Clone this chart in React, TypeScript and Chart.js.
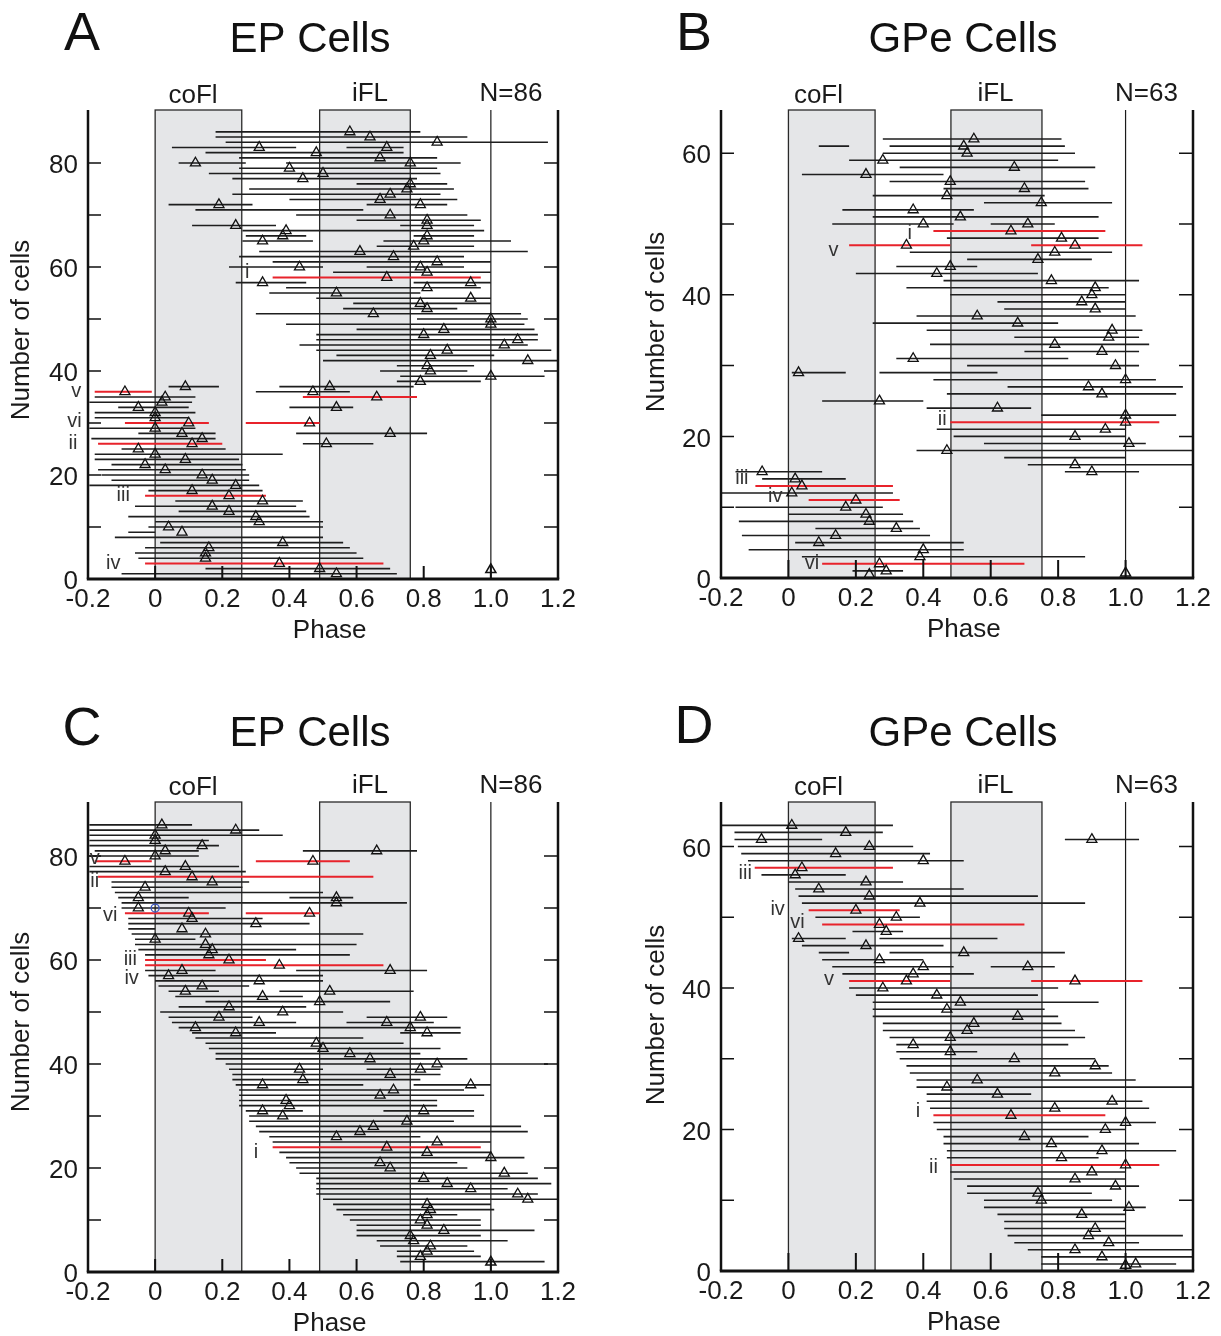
import React, { useEffect, useRef } from 'react';
import { Chart, registerables } from 'chart.js';

Chart.register(...registerables);

type Cell = [number, number, number, number | null]; // row, start phase, end phase, mean phase
type Lbl = [string, number, number]; // text, phase, row

const FONT = '"Liberation Sans", Arial, Helvetica, sans-serif';

const X_TICKS = [-0.2, 0, 0.2, 0.4, 0.6, 0.8, 1.0, 1.2];
const X_TICK_LABELS = ['-0.2', '0', '0.2', '0.4', '0.6', '0.8', '1.0', '1.2'];
const Y_MAJOR_EP = [0, 20, 40, 60, 80];
const Y_MINOR_EP = [10, 30, 50, 70];
const Y_MAJOR_GPE = [0, 20, 40, 60];
const Y_MINOR_GPE = [10, 30, 50];
const COFL_EP: [number, number] = [0, 0.258];
const IFL_EP: [number, number] = [0.49, 0.76];
const COFL_GPE: [number, number] = [0, 0.257];
const IFL_GPE: [number, number] = [0.482, 0.752];

// ---------- Panel A : EP cells ----------
const epCellsA: Cell[] = [
  [86, 0.18, 0.79, 0.58], [85, 0.18, 0.93, 0.64], [84, 0.21, 1.17, 0.84],
  [83, 0.05, 0.42, 0.31], [83, 0.57, 0.74, 0.69], [82, 0.15, 0.74, 0.48],
  [81, 0.25, 0.84, 0.67], [80, 0.07, 0.27, 0.12], [80, 0.39, 0.91, 0.76],
  [79, 0.25, 0.84, 0.40], [78, 0.16, 0.85, 0.50], [77, 0.23, 0.78, 0.44],
  [76, 0.60, 0.87, 0.76], [75, 0.28, 0.89, 0.75], [74, 0.23, 0.85, 0.70],
  [73, 0.40, 0.90, 0.67], [72, 0.04, 0.29, 0.19], [72, 0.63, 0.87, 0.79],
  [71, 0.12, 0.62, null], [70, 0.42, 0.93, 0.70], [69, 0.60, 0.97, 0.81],
  [68, 0.11, 0.36, 0.24], [68, 0.73, 0.95, 0.81], [67, 0.26, 0.98, 0.39],
  [66, 0.27, 0.45, 0.38], [66, 0.77, 0.95, 0.81], [65, 0.26, 0.47, 0.32],
  [65, 0.68, 1.06, 0.80], [64, 0.66, 0.95, 0.77], [63, 0.31, 1.11, 0.61],
  [62, 0.25, 0.92, 0.71], [61, 0.35, 1.00, 0.84], [60, 0.22, 0.50, 0.43],
  [60, 0.63, 0.92, 0.79], [59, 0.53, 1.00, 0.81], [57, 0.24, 0.45, 0.32],
  [57, 0.77, 1.00, 0.94], [56, 0.39, 0.97, 0.81], [55, 0.34, 0.79, 0.54],
  [54, 0.48, 1.00, 0.94], [53, 0.59, 1.00, 0.79], [52, 0.56, 0.90, 0.81],
  [51, 0.30, 1.09, 0.65], [50, 0.78, 1.11, 1.00], [49, 0.39, 1.10, 1.00],
  [48, 0.60, 1.13, 0.86], [47, 0.48, 1.14, 0.80], [46, 0.48, 1.14, 1.08],
  [45, 0.43, 1.11, 1.04], [44, 0.48, 1.18, 0.87], [43, 0.54, 1.01, 0.82],
  [42, 0.50, 1.20, 1.11], [41, 0.72, 0.95, 0.81], [40, 0.67, 0.93, 0.82],
  [39, 0.73, 1.16, 1.00], [38, 0.72, 0.97, 0.79], [37, 0.04, 0.19, 0.09],
  [37, 0.37, 0.77, 0.52], [36, 0.30, 0.58, 0.47], [35, -0.18, 0.12, 0.03],
  [34, -0.196, 0.11, 0.02], [33, -0.11, 0.10, -0.05], [33, 0.40, 0.59, 0.54],
  [32, -0.18, 0.12, 0.00], [31, -0.18, 0.10, 0.00], [29, -0.196, 0.12, 0.00],
  [28, -0.05, 0.18, 0.08], [28, 0.42, 0.81, 0.70], [27, -0.19, 0.18, 0.14],
  [26, 0.44, 0.65, 0.51], [25, -0.10, 0.21, -0.05], [24, -0.18, 0.38, 0.00],
  [23, -0.18, 0.25, 0.09], [22, -0.13, 0.26, -0.03], [21, -0.17, 0.27, 0.03],
  [20, -0.16, 0.28, 0.14], [19, -0.13, 0.28, 0.17], [18, -0.196, 0.31, 0.24],
  [17, -0.02, 0.32, 0.11], [15, 0.06, 0.44, 0.32], [14, -0.06, 0.42, 0.17],
  [13, 0.07, 0.45, 0.22], [12, -0.08, 0.46, 0.30], [11, 0.00, 0.50, 0.31],
  [10, -0.02, 0.50, 0.04], [9, -0.08, 0.00, 0.08], [8, -0.12, 0.50, null],
  [7, 0.015, 0.56, 0.38], [6, -0.03, 0.58, 0.16], [5, -0.06, 0.60, 0.15],
  [4, -0.05, 0.62, 0.15], [2, 0.15, 0.70, 0.49], [1, -0.10, 0.72, 0.54],
];
const epRedA: Cell[] = [
  [58, 0.35, 0.97, 0.69], [36, -0.18, -0.01, -0.09], [35, 0.44, 0.78, 0.66],
  [30, -0.09, 0.16, 0.10], [30, 0.27, 0.49, 0.46], [26, -0.17, 0.20, 0.11],
  [16, -0.03, 0.33, 0.22], [3, -0.03, 0.68, 0.37],
];
const epLabelsA: Lbl[] = [
  ['i', 0.274, 59], ['v', -0.235, 36], ['vi', -0.24, 30.3], ['ii', -0.245, 26],
  ['iii', -0.095, 16], ['iv', -0.125, 3],
];

// ---------- Panel B : GPe cells ----------
const gpeCellsB: Cell[] = [
  [62, 0.28, 0.81, 0.55], [61, 0.30, 0.82, 0.52], [61, 0.09, 0.18, null],
  [60, 0.28, 0.85, 0.53], [59, 0.18, 0.80, 0.28], [58, 0.33, 0.91, 0.67],
  [57, 0.04, 0.46, 0.23], [56, 0.30, 0.88, 0.48], [55, 0.46, 0.89, 0.70],
  [54, 0.25, 0.76, 0.47], [53, 0.58, 0.96, 0.75], [52, 0.16, 0.55, 0.37],
  [51, 0.25, 0.92, 0.51], [50, 0.13, 0.49, 0.40], [50, 0.60, 0.79, 0.71],
  [48, 0.47, 0.92, 0.81], [46, 0.36, 0.96, 0.79], [45, 0.53, 0.90, 0.74],
  [44, 0.32, 0.56, 0.48], [43, 0.20, 0.74, 0.44], [42, 0.46, 1.04, 0.78],
  [41, 0.35, 0.95, 0.91], [40, 0.48, 1.00, 0.90], [39, 0.62, 1.00, 0.87],
  [38, 0.64, 1.00, 0.91], [37, 0.38, 1.03, 0.56], [36, 0.25, 0.80, 0.68],
  [35, 0.41, 1.05, 0.96], [34, 0.67, 1.04, 0.95], [33, 0.42, 1.07, 0.79],
  [32, 0.70, 1.04, 0.93], [31, 0.32, 0.83, 0.37], [30, 0.53, 1.04, 0.97],
  [29, 0.01, 0.17, 0.03], [29, 0.27, 0.62, null], [28, 0.43, 1.09, 1.00],
  [27, 0.65, 1.17, 0.89], [26, 0.47, 1.15, 0.93], [25, 0.10, 0.40, 0.27],
  [24, 0.41, 0.72, 0.62], [23, 0.75, 1.15, 1.00], [21, 0.44, 1.00, 0.94],
  [20, 0.49, 1.00, 0.85], [19, 0.58, 1.06, 1.01], [18, 0.38, 1.20, 0.47],
  [17, 0.64, 1.00, null], [16, 0.71, 1.20, 0.85], [15, 0.82, 1.04, 0.90],
  [15, -0.157, 0.10, -0.078], [14, -0.078, 0.17, 0.02], [12, -0.20, 0.31, 0.01],
  [10, -0.157, 0.28, 0.17], [9, 0.00, 0.34, 0.23], [8, -0.147, 0.37, 0.24],
  [7, 0.08, 0.39, 0.32], [6, -0.138, 0.42, 0.14], [5, 0.02, 0.52, 0.09],
  [4, -0.118, 0.52, 0.40], [3, 0.04, 0.88, 0.39], [1, 0.19, 0.34, 0.29],
  [0.5, 0.24, 0.24, 0.24],
];
const gpeRedB: Cell[] = [
  [49, 0.43, 0.94, 0.66], [47, 0.18, 0.48, 0.35], [47, 0.72, 1.05, 0.85],
  [22, 0.48, 1.10, 1.00], [13, -0.098, 0.31, 0.04], [11, 0.06, 0.33, 0.20],
  [2, 0.10, 0.70, 0.27],
];
const gpeLabelsB: Lbl[] = [
  ['i', 0.36, 48.7], ['v', 0.134, 46.3], ['ii', 0.456, 22.4], ['iii', -0.138, 14],
  ['iv', -0.039, 11.5], ['vi', 0.07, 2.1],
];

// ---------- Panel C : EP cells (re-sorted) ----------
const epCellsC: Cell[] = [
  [86, -0.196, 0.11, 0.02], [85, -0.196, 0.31, 0.24], [84, -0.196, 0.38, 0.00],
  [83, -0.196, 0.16, 0.00], [82, -0.196, 0.19, 0.14], [81, -0.18, 0.13, 0.03],
  [81, 0.44, 0.78, 0.66], [80, -0.196, 0.13, 0.00], [78, -0.196, 0.25, 0.09],
  [77, -0.196, 0.27, 0.03], [75, -0.13, 0.28, 0.17], [74, -0.13, 0.26, -0.03],
  [73, -0.12, 0.50, null], [72, -0.11, 0.10, -0.05], [72, 0.40, 0.59, 0.54],
  [71, -0.10, 0.75, 0.54], [70, -0.10, 0.21, -0.05], [68, -0.08, 0.32, 0.11],
  [67, -0.08, 0.46, 0.30], [66, -0.08, 0.00, 0.08], [65, -0.07, 0.62, 0.15],
  [64, -0.06, 0.12, 0.00], [63, -0.06, 0.60, 0.15], [62, -0.05, 0.42, 0.17],
  [61, -0.03, 0.58, 0.16], [58, -0.03, 0.18, 0.08], [58, 0.42, 0.81, 0.70],
  [57, -0.02, 0.50, 0.04], [56, 0.00, 0.50, 0.31], [55, 0.01, 0.28, 0.14],
  [54, 0.04, 0.19, 0.09], [54, 0.37, 0.77, 0.52], [53, 0.06, 0.44, 0.32],
  [52, 0.15, 0.70, 0.49], [51, 0.07, 0.45, 0.22], [50, 0.015, 0.56, 0.38],
  [49, 0.04, 0.29, 0.19], [49, 0.63, 0.87, 0.79], [48, 0.05, 0.42, 0.31],
  [48, 0.57, 0.83, 0.69], [47, 0.07, 0.60, 0.12], [47, 0.39, 0.91, 0.76],
  [46, 0.11, 0.36, 0.24], [46, 0.73, 0.91, 0.81], [45, 0.12, 0.62, null],
  [44, 0.15, 0.74, 0.48], [43, 0.16, 0.85, 0.50], [42, 0.18, 0.79, 0.58],
  [41, 0.18, 0.93, 0.64], [40, 0.21, 1.17, 0.84], [39, 0.22, 0.50, 0.43],
  [39, 0.63, 0.85, 0.79], [38, 0.23, 0.85, 0.70], [37, 0.23, 0.79, 0.44],
  [36, 0.24, 0.62, 0.32], [36, 0.77, 1.00, 0.94], [35, 0.25, 0.92, 0.71],
  [34, 0.25, 0.98, 0.67], [33, 0.25, 0.84, 0.39], [32, 0.25, 0.84, 0.40],
  [31, 0.27, 0.44, 0.32], [31, 0.68, 0.95, 0.80], [30, 0.28, 0.95, 0.38],
  [29, 0.28, 0.89, 0.75], [28, 0.30, 1.09, 0.65], [27, 0.31, 1.11, 0.61],
  [26, 0.34, 0.79, 0.54], [25, 0.35, 1.00, 0.84], [23, 0.37, 1.00, 0.81],
  [22, 0.39, 1.10, 1.00], [21, 0.40, 0.90, 0.67], [20, 0.42, 0.93, 0.70],
  [19, 0.43, 1.11, 1.04], [18, 0.48, 1.14, 0.80], [17, 0.48, 1.18, 0.87],
  [16, 0.48, 1.05, 0.94], [15, 0.48, 1.14, 1.08], [14, 0.50, 1.20, 1.11],
  [13, 0.53, 1.00, 0.81], [12, 0.54, 1.01, 0.82], [11, 0.56, 0.90, 0.81],
  [10, 0.58, 0.97, 0.79], [9, 0.60, 0.97, 0.81], [8, 0.60, 1.13, 0.86],
  [7, 0.60, 0.97, 0.76], [6, 0.66, 1.05, 0.77], [5, 0.67, 0.93, 0.82],
  [4, 0.72, 0.95, 0.81], [3, 0.72, 0.97, 0.79], [2, 0.73, 1.16, null],
];
const epRedC: Cell[] = [
  [79, -0.18, -0.01, -0.09], [79, 0.30, 0.58, 0.47], [76, -0.17, 0.65, 0.11],
  [69, -0.09, 0.16, 0.10], [69, 0.27, 0.49, 0.46], [60, -0.03, 0.33, 0.22],
  [59, -0.03, 0.68, 0.37], [24, 0.35, 0.97, 0.69],
];
const epLabelsC: Lbl[] = [
  ['v', -0.18, 79.5], ['ii', -0.18, 75.1], ['vi', -0.134, 68.6], ['iii', -0.074, 60.2],
  ['iv', -0.07, 56.5], ['i', 0.30, 23],
];

// ---------- Panel D : GPe cells (re-sorted) ----------
const gpeCellsD: Cell[] = [
  [63, -0.20, 0.31, 0.01], [62, -0.16, 0.28, 0.17], [61, -0.16, 0.10, -0.08],
  [61, 0.82, 1.04, 0.90], [60, -0.15, 0.37, 0.24], [59, -0.14, 0.42, 0.14],
  [58, -0.12, 0.52, 0.40], [56, -0.08, 0.17, 0.02], [55, 0.00, 0.34, 0.23],
  [54, 0.02, 0.52, 0.09], [53, 0.03, 0.74, 0.24], [52, 0.04, 0.88, 0.39],
  [50, 0.08, 0.39, 0.32], [48, 0.19, 0.34, 0.29], [47, 0.01, 0.17, 0.03],
  [47, 0.27, 0.62, null], [46, 0.04, 0.46, 0.23], [45, 0.09, 0.18, null],
  [45, 0.30, 0.82, 0.52], [44, 0.10, 0.40, 0.27], [43, 0.13, 0.49, 0.40],
  [43, 0.60, 0.79, 0.71], [42, 0.16, 0.55, 0.37], [40, 0.18, 0.80, 0.28],
  [39, 0.20, 0.74, 0.44], [38, 0.25, 0.92, 0.51], [37, 0.25, 0.76, 0.47],
  [36, 0.25, 0.80, 0.68], [35, 0.28, 0.81, 0.55], [34, 0.28, 0.85, 0.53],
  [33, 0.30, 0.88, 0.48], [32, 0.32, 0.83, 0.37], [31, 0.32, 0.56, 0.48],
  [30, 0.33, 0.91, 0.67], [29, 0.35, 0.95, 0.91], [28, 0.36, 0.96, 0.79],
  [27, 0.38, 1.03, 0.56], [26, 0.38, 1.20, 0.47], [25, 0.41, 0.72, 0.62],
  [24, 0.41, 1.05, 0.96], [23, 0.42, 1.07, 0.79], [21, 0.43, 1.09, 1.00],
  [20, 0.44, 1.00, 0.94], [19, 0.46, 0.89, 0.70], [18, 0.46, 1.04, 0.78],
  [17, 0.47, 1.15, 0.93], [16, 0.47, 0.92, 0.81], [14, 0.48, 1.00, 0.90],
  [13, 0.49, 1.00, 0.85], [12, 0.53, 1.04, 0.97], [11, 0.53, 0.90, 0.74],
  [10, 0.58, 0.96, 0.75], [9, 0.58, 1.06, 1.01], [8, 0.62, 1.00, 0.87],
  [7, 0.64, 1.00, null], [6, 0.64, 1.00, 0.91], [5, 0.65, 1.17, 0.89],
  [4, 0.67, 1.04, 0.95], [3, 0.71, 1.20, 0.85], [2, 0.75, 1.20, 0.93],
  [1, 0.75, 1.15, 1.03],
];
const gpeRedD: Cell[] = [
  [57, -0.10, 0.31, 0.04], [51, 0.06, 0.33, 0.20], [49, 0.10, 0.70, 0.27],
  [41, 0.18, 0.48, 0.35], [41, 0.72, 1.05, 0.85], [22, 0.43, 0.94, 0.66],
  [15, 0.48, 1.10, 1.00],
];
const gpeLabelsD: Lbl[] = [
  ['iii', -0.128, 56.2], ['iv', -0.032, 51.1], ['vi', 0.027, 49.2], ['v', 0.12, 41.2],
  ['i', 0.384, 22.6], ['ii', 0.43, 14.7],
];

interface Panel {
  id: string;
  letter: string;
  title: string;
  nText: string;
  cells: Cell[];
  reds: Cell[];
  labels: Lbl[];
  refPoint: [number, number];
  blue?: [number, number];
  ymax: number;
  yMajor: number[];
  yMinor: number[];
  cofl: [number, number];
  ifl: [number, number];
  box: [number, number, number, number];
  pad: { left: number; right: number; top: number; bottom: number };
  xTickLen: number;
  letterPos: [number, number];
  titlePos: [number, number];
  yTitlePos: [number, number];
  boxLabelX: [number, number, number];
}

const PANELS: Panel[] = [
  {
    id: 'A', letter: 'A', title: 'EP Cells', nText: 'N=86', cells: epCellsA, reds: epRedA,
    labels: epLabelsA, refPoint: [1.0, 1.8], ymax: 90.2, yMajor: Y_MAJOR_EP, yMinor: Y_MINOR_EP,
    cofl: COFL_EP, ifl: IFL_EP, box: [0, 0, 610, 668],
    pad: { left: 88, right: 52, top: 110, bottom: 89 }, xTickLen: 13,
    letterPos: [82, 50], titlePos: [310, 52], yTitlePos: [22, 330], boxLabelX: [0.113, 0.64, 1.06],
  },
  {
    id: 'B', letter: 'B', title: 'GPe Cells', nText: 'N=63', cells: gpeCellsB, reds: gpeRedB,
    labels: gpeLabelsB, refPoint: [1.0, 0.7], ymax: 66.1, yMajor: Y_MAJOR_GPE, yMinor: Y_MINOR_GPE,
    cofl: COFL_GPE, ifl: IFL_GPE, box: [610, 0, 611, 668],
    pad: { left: 111, right: 28, top: 110, bottom: 90 }, xTickLen: 18,
    letterPos: [84, 50], titlePos: [353, 52], yTitlePos: [47, 322], boxLabelX: [0.089, 0.614, 1.062],
  },
  {
    id: 'C', letter: 'C', title: 'EP Cells', nText: 'N=86', cells: epCellsC, reds: epRedC,
    labels: epLabelsC, refPoint: [1.0, 1.9], blue: [0.0, 70], ymax: 90.4, yMajor: Y_MAJOR_EP,
    yMinor: Y_MINOR_EP, cofl: COFL_EP, ifl: IFL_EP, box: [0, 668, 610, 668],
    pad: { left: 88, right: 52, top: 134, bottom: 64 }, xTickLen: 13,
    letterPos: [82, 77], titlePos: [310, 78], yTitlePos: [22, 354], boxLabelX: [0.113, 0.64, 1.06],
  },
  {
    id: 'D', letter: 'D', title: 'GPe Cells', nText: 'N=63', cells: gpeCellsD, reds: gpeRedD,
    labels: gpeLabelsD, refPoint: [1.0, 0.8], ymax: 66.3, yMajor: Y_MAJOR_GPE, yMinor: Y_MINOR_GPE,
    cofl: COFL_GPE, ifl: IFL_GPE, box: [610, 668, 611, 668],
    pad: { left: 111, right: 28, top: 134, bottom: 65 }, xTickLen: 18,
    letterPos: [84, 75], titlePos: [353, 78], yTitlePos: [47, 347], boxLabelX: [0.089, 0.614, 1.062],
  },
];

function drawText(
  ctx: CanvasRenderingContext2D, s: string, x: number, y: number, size: number,
  align: CanvasTextAlign = 'center', base: CanvasTextBaseline = 'alphabetic', color = '#1a1a1a',
) {
  ctx.save();
  ctx.font = `${size}px ${FONT}`;
  ctx.fillStyle = color;
  ctx.textAlign = align;
  ctx.textBaseline = base;
  ctx.fillText(s, x, y);
  ctx.restore();
}

function segments(cells: Cell[]) {
  const out: { x: number; y: number | null }[] = [];
  for (const [r, s, e] of cells) {
    out.push({ x: s, y: r }, { x: e, y: r }, { x: e, y: null });
  }
  return out;
}

function makeConfig(p: Panel): any {
  const tris = [...p.cells, ...p.reds]
    .filter((c) => c[3] !== null)
    .map((c) => ({ x: c[3] as number, y: c[0] }));

  const deco = {
    id: 'deco' + p.id,
    beforeDatasetsDraw(chart: any) {
      const { ctx, chartArea: a, scales } = chart;
      const xs = scales.x;
      ctx.save();
      for (const [s, e] of [p.cofl, p.ifl]) {
        const x0 = xs.getPixelForValue(s);
        const x1 = xs.getPixelForValue(e);
        ctx.fillStyle = '#e5e6e8';
        ctx.fillRect(x0, a.top, x1 - x0, a.bottom - a.top);
        ctx.strokeStyle = '#2a2a2a';
        ctx.lineWidth = 1.3;
        ctx.strokeRect(x0, a.top, x1 - x0, a.bottom - a.top);
      }
      const x1p = xs.getPixelForValue(1.0);
      ctx.beginPath();
      ctx.moveTo(x1p, a.bottom);
      ctx.lineTo(x1p, a.top);
      ctx.strokeStyle = '#1a1a1a';
      ctx.lineWidth = 1.2;
      ctx.stroke();
      ctx.restore();
    },
    afterDatasetsDraw(chart: any) {
      const { ctx, chartArea: a, scales } = chart;
      const xs = scales.x;
      const ys = scales.y;
      ctx.save();
      ctx.strokeStyle = '#111';
      ctx.lineCap = 'butt';
      // frame: left, bottom, right
      ctx.lineWidth = 2.5;
      ctx.beginPath();
      ctx.moveTo(a.left, a.top);
      ctx.lineTo(a.left, a.bottom);
      ctx.moveTo(a.right, a.top);
      ctx.lineTo(a.right, a.bottom);
      ctx.stroke();
      ctx.lineWidth = 3;
      ctx.beginPath();
      ctx.moveTo(a.left - 1.2, a.bottom);
      ctx.lineTo(a.right + 1.2, a.bottom);
      ctx.stroke();
      // y ticks (inward on both sides)
      ctx.lineWidth = 1.5;
      ctx.beginPath();
      for (const v of [...p.yMajor, ...p.yMinor]) {
        if (v === 0) continue;
        const y = ys.getPixelForValue(v);
        ctx.moveTo(a.left, y);
        ctx.lineTo(a.left + 13, y);
        ctx.moveTo(a.right, y);
        ctx.lineTo(a.right - 14, y);
      }
      ctx.stroke();
      // x ticks (inward, upward)
      ctx.lineWidth = 2;
      ctx.beginPath();
      for (const v of X_TICKS) {
        const x = xs.getPixelForValue(v);
        ctx.moveTo(x, a.bottom);
        ctx.lineTo(x, a.bottom - p.xTickLen);
      }
      ctx.stroke();
      ctx.restore();

      // tick labels
      X_TICKS.forEach((v, i) => {
        drawText(ctx, X_TICK_LABELS[i], xs.getPixelForValue(v), a.bottom + 21, 26, 'center', 'middle');
      });
      for (const v of p.yMajor) {
        drawText(ctx, String(v), a.left - 10, ys.getPixelForValue(v) + 3, 26, 'right', 'middle');
      }
      // axis titles
      drawText(ctx, 'Phase', xs.getPixelForValue(0.52), a.bottom + 59, 26, 'center', 'alphabetic');
      ctx.save();
      ctx.translate(p.yTitlePos[0], p.yTitlePos[1]);
      ctx.rotate(-Math.PI / 2);
      drawText(ctx, 'Number of cells', 0, 0, 26, 'center', 'middle');
      ctx.restore();
      // header texts
      drawText(ctx, p.letter, p.letterPos[0], p.letterPos[1], 54, 'center', 'alphabetic', '#111');
      drawText(ctx, p.title, p.titlePos[0], p.titlePos[1], 42, 'center', 'alphabetic', '#111');
      drawText(ctx, 'coFl', xs.getPixelForValue(p.boxLabelX[0]), a.top - 7, 26);
      drawText(ctx, 'iFL', xs.getPixelForValue(p.boxLabelX[1]), a.top - 9, 26);
      drawText(ctx, p.nText, xs.getPixelForValue(p.boxLabelX[2]), a.top - 9, 26);
      // roman numeral labels of highlighted cells
      for (const [t, ph, r] of p.labels) {
        drawText(ctx, t, xs.getPixelForValue(ph), ys.getPixelForValue(r), 20, 'center', 'middle', '#333');
      }
    },
  };

  const datasets: any[] = [
    {
      label: 'cells', data: segments(p.cells), borderColor: '#1e1e1e', borderWidth: 1.6,
      pointRadius: 0, showLine: true, spanGaps: false, order: 3,
    },
    {
      label: 'highlighted', data: segments(p.reds), borderColor: '#e8232b', borderWidth: 2,
      pointRadius: 0, showLine: true, spanGaps: false, order: 2,
    },
    {
      label: 'mean', data: tris, showLine: false, pointStyle: 'triangle', pointRadius: 5.8,
      pointBorderColor: '#111', pointBackgroundColor: 'rgba(0,0,0,0)', pointBorderWidth: 1.3, order: 1,
    },
    {
      label: 'ref', data: [{ x: p.refPoint[0], y: p.refPoint[1] }], showLine: false,
      pointStyle: 'triangle', pointRadius: 5.8, pointBorderColor: '#111',
      pointBackgroundColor: 'rgba(0,0,0,0)', pointBorderWidth: 1.5, order: 1,
    },
  ];
  if (p.blue) {
    datasets.push({
      label: 'blue', data: [{ x: p.blue[0], y: p.blue[1] }], showLine: false, pointStyle: 'circle',
      pointRadius: 4, pointBorderColor: '#3a55c0', pointBackgroundColor: 'rgba(0,0,0,0)',
      pointBorderWidth: 1.3, order: 0,
    });
  }

  return {
    type: 'line',
    data: { datasets },
    options: {
      responsive: false,
      maintainAspectRatio: false,
      devicePixelRatio: 1,
      animation: false,
      parsing: true,
      layout: { padding: p.pad },
      plugins: { legend: { display: false }, tooltip: { enabled: false }, title: { display: false } },
      events: [],
      scales: {
        x: { type: 'linear', min: -0.2, max: 1.2, display: false },
        y: { type: 'linear', min: 0, max: p.ymax, display: false },
      },
    },
    plugins: [deco],
  };
}

function PanelChart({ p }: { p: Panel }) {
  const ref = useRef<HTMLCanvasElement>(null);
  useEffect(() => {
    if (!ref.current) return;
    const chart = new Chart(ref.current, makeConfig(p));
    return () => chart.destroy();
  }, [p]);
  const [l, t, w, h] = p.box;
  return (
    <canvas
      ref={ref}
      width={w}
      height={h}
      style={{ position: 'absolute', left: l, top: t, width: w, height: h }}
    />
  );
}

export default function App() {
  return (
    <div
      style={{
        position: 'absolute', left: 0, top: 0, width: 1221, height: 1336,
        background: '#ffffff', overflow: 'hidden',
      }}
    >
      {PANELS.map((p) => (
        <PanelChart key={p.id} p={p} />
      ))}
    </div>
  );
}
